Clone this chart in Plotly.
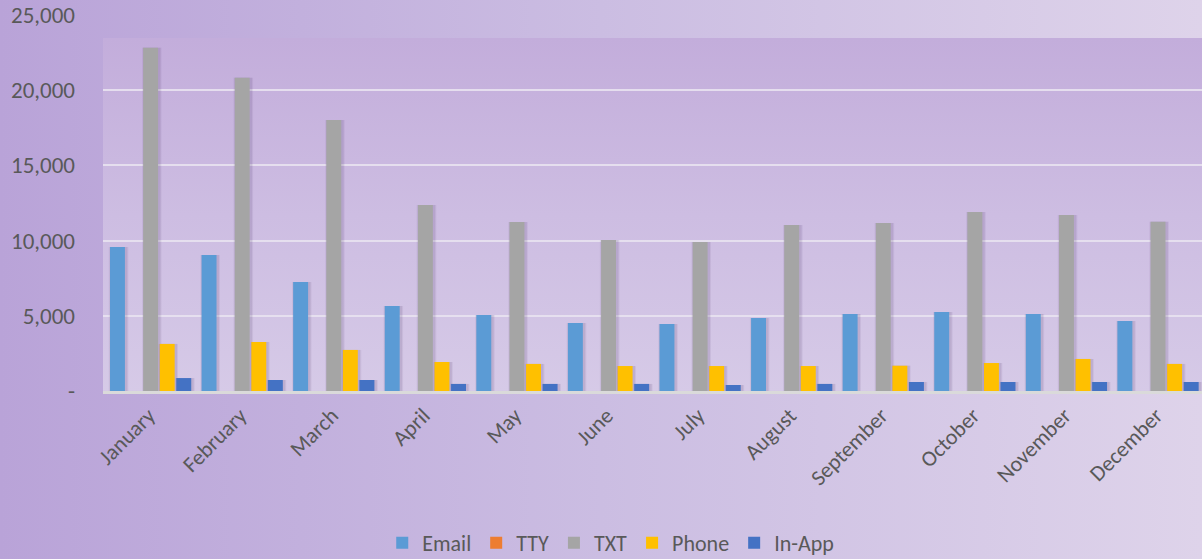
import base64
import plotly.graph_objects as go

# Monthly contact volumes by channel
months = ["January", "February", "March", "April", "May", "June",
          "July", "August", "September", "October", "November", "December"]
email = [9570, 9040, 7250, 5650, 5050, 4520, 4460, 4850, 5120, 5250, 5120, 4650]
tty = [0, 0, 0, 0, 0, 0, 0, 0, 0, 0, 0, 0]
txt = [22830, 20830, 18020, 12370, 11240, 10040, 9900, 11040, 11170, 11900, 11700, 11260]
phone = [3130, 3260, 2730, 1930, 1800, 1660, 1660, 1660, 1680, 1860, 2130, 1800]
in_app = [860, 730, 730, 470, 470, 470, 400, 470, 600, 600, 600, 600]

y_ticks = [0, 5000, 10000, 15000, 20000, 25000]
y_tick_text = ["-", "5,000", "10,000", "15,000", "20,000", "25,000"]

series = [
    ("Email", email, "#5b9bd5"),
    ("TTY", tty, "#ed7d31"),
    ("TXT", txt, "#a5a5a5"),
    ("Phone", phone, "#ffc000"),
    ("In-App", in_app, "#4472c4"),
]

x_pos = list(range(len(months)))
BAR_W = 0.163
STEP = 0.181
SHIFT = 0.02

fig = go.Figure()

# soft drop shadows behind each bar
for i, (name, vals, color) in enumerate(series):
    off = (i - 2) * STEP - BAR_W / 2 + SHIFT
    for extra, alpha in [(0.05, 0.07), (0.028, 0.10)]:
        fig.add_trace(go.Bar(
            x=x_pos, y=vals, width=BAR_W + extra, offset=off - extra / 2 + 0.012,
            marker=dict(color=f"rgba(70,45,95,{alpha})", line=dict(width=0)),
            showlegend=False, hoverinfo="skip",
        ))

for i, (name, vals, color) in enumerate(series):
    off = (i - 2) * STEP - BAR_W / 2 + SHIFT
    fig.add_trace(go.Bar(
        name=name, x=x_pos, y=vals, width=BAR_W, offset=off,
        marker=dict(color=color, line=dict(width=0)),
    ))

L, T, PW, PH = 103, 15, 1099, 376
WALL_TOP, WALL_BOTTOM = 38, 393

# lavender chart background with the plot-area wall on top
svg = f"""<svg xmlns='http://www.w3.org/2000/svg' width='1202' height='559' preserveAspectRatio='none'>
<defs>
<linearGradient id='g' x1='0' y1='0' x2='1' y2='0'>
<stop offset='0' stop-color='#b9a3d8'/>
<stop offset='0.5' stop-color='#cbbde2'/>
<stop offset='1' stop-color='#ded3ea'/>
</linearGradient>
<linearGradient id='w' x1='0' y1='0' x2='0' y2='1'>
<stop offset='0' stop-color='#c3addb'/>
<stop offset='0.5' stop-color='#cdbde2'/>
<stop offset='1' stop-color='#d6cae7'/>
</linearGradient>
</defs>
<rect width='1202' height='559' fill='url(#g)'/>
<rect x='{L}' y='{WALL_TOP}' width='{1202 - L}' height='{WALL_BOTTOM - WALL_TOP}' fill='url(#w)'/>
</svg>"""
uri = "data:image/svg+xml;base64," + base64.b64encode(svg.encode()).decode()

fig.add_layout_image(dict(
    source=uri, xref="paper", yref="paper",
    x=-L / PW, y=1 + T / PH, sizex=1202 / PW, sizey=559 / PH,
    xanchor="left", yanchor="top", sizing="stretch", layer="below",
))

font_family = "Calibri, Carlito, Lato, sans-serif"

fig.update_layout(
    width=1202, height=559,
    margin=dict(l=L, r=0, t=T, b=559 - T - PH, autoexpand=False),
    paper_bgcolor="#c9b8df",
    plot_bgcolor="rgba(0,0,0,0)",
    barmode="overlay",
    font=dict(family=font_family, color="#595959"),
    showlegend=True,
    legend=dict(
        orientation="h", x=0.462, xanchor="center", y=-0.404, yanchor="middle",
        font=dict(size=22, color="#595959"), bgcolor="rgba(0,0,0,0)",
        itemwidth=30, traceorder="normal",
    ),
    xaxis=dict(
        tickvals=x_pos, ticktext=months, range=[-0.5, len(months) - 0.5],
        tickangle=-45, tickfont=dict(size=22, color="#595959"),
        showgrid=False, showline=True, linecolor="#dadada", linewidth=3,
        ticks="", zeroline=False, automargin=False,
    ),
    yaxis=dict(
        range=[0, 25000], tickvals=y_ticks, ticktext=y_tick_text,
        tickfont=dict(size=23, color="#595959"),
        showgrid=True, gridcolor="rgba(232,226,240,0.9)", gridwidth=2,
        zeroline=False, showline=False, ticks="", ticklabelstandoff=27,
        automargin=False,
    ),
)

fig.write_html("out.html")
